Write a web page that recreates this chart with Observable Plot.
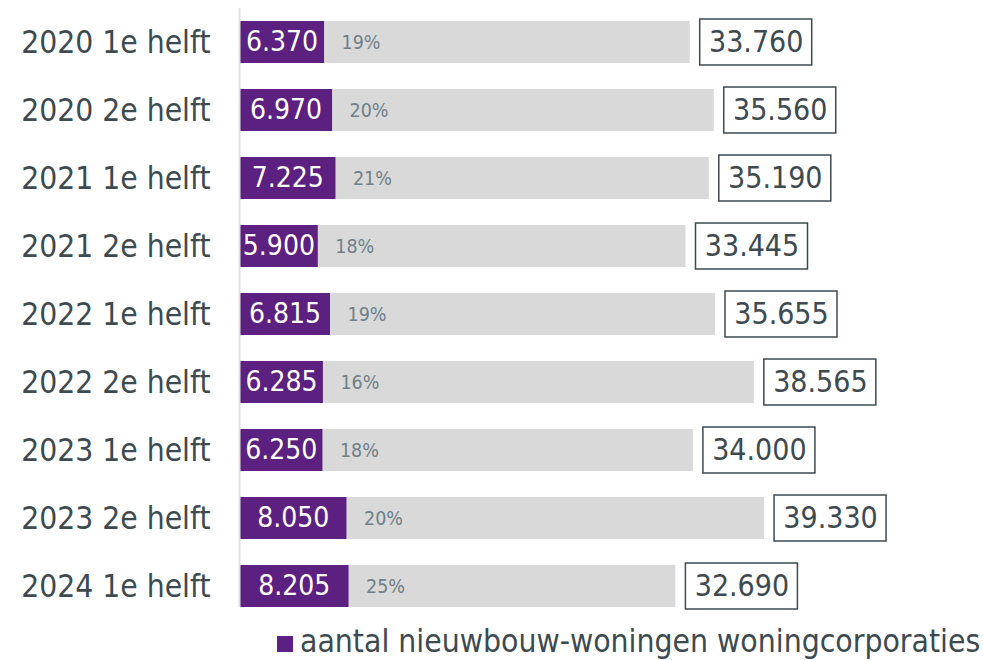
<!DOCTYPE html>
<html><head><meta charset="utf-8">
<script src="https://cdn.jsdelivr.net/npm/d3@7"></script>
<script src="https://cdn.jsdelivr.net/npm/@observablehq/plot@0.6"></script>
<style>
body{margin:0;background:#fff;font-family:"DejaVu Sans Condensed","DejaVu Sans",sans-serif;font-stretch:condensed}
svg text{font-stretch:condensed}
#chart svg{display:block}
.legend{margin-left:277px;margin-top:3px;font-size:31.6px;line-height:normal;color:#3d4a50;white-space:nowrap}
.sw{display:inline-block;width:16px;height:16px;background:#5c2080;margin-right:7px;vertical-align:baseline}
</style></head><body><div id="chart"></div>
<div class="legend"><span class="sw"></span>aantal nieuwbouw-woningen woningcorporaties</div>
<script>
const categories = ["2020 1e helft","2020 2e helft","2021 1e helft","2021 2e helft","2022 1e helft","2022 2e helft","2023 1e helft","2023 2e helft","2024 1e helft"];
const corporaties = [6370, 6970, 7225, 5900, 6815, 6285, 6250, 8050, 8205];
const totaal = [33760, 35560, 35190, 33445, 35655, 38565, 34000, 39330, 32690];
const percentages = [19, 20, 21, 18, 19, 16, 18, 20, 25];

const data = categories.map((c, i) => ({c, v: corporaties[i], t: totaal[i], p: percentages[i]}));
const nl = d3.formatLocale({decimal: ",", thousands: ".", grouping: [3], currency: ["€", ""]});
const fmt = nl.format(",");
const purple = "#5c2080", dark = "#3d4a50";

const chart = Plot.plot({
  width: 983,
  height: 620,
  marginLeft: 239,
  marginRight: 0,
  marginTop: 8,
  marginBottom: 0,
  style: {fontFamily: "'DejaVu Sans Condensed', 'DejaVu Sans', sans-serif", color: dark, background: "#fff"},
  x: {domain: [0, 55730], axis: null},
  y: {domain: categories, range: [8, 620], paddingInner: 0.38, paddingOuter: 0.19, label: null},
  marks: [
    Plot.barX(data, {y: "c", x: "t", fill: "#d9d9d9"}),
    Plot.barX(data, {y: "c", x: "v", fill: purple}),
    Plot.ruleX([0], {stroke: "#e2e2e2", strokeWidth: 2, insetBottom: 13}),
    Plot.axisY({tickSize: 0, tickPadding: 29, fontSize: 31.5, color: dark, label: null}),
    Plot.text(data, {y: "c", x: d => d.v / 2, text: d => fmt(d.v), fill: "white", fontSize: 28}),
    Plot.text(data, {y: "c", x: "v", dx: 17, text: d => d.p + "%", fill: "#6f8088", fontSize: 19.5, textAnchor: "start"}),
    Plot.barX(data, {y: "c", x1: "t", x2: "t", dx: 10, insetRight: -112, insetTop: -2, insetBottom: -2, fill: "none", stroke: dark, strokeWidth: 1.5}),
    Plot.text(data, {y: "c", x: "t", dx: 66, text: d => fmt(d.t), fill: dark, fontSize: 30})
  ]
});
document.getElementById("chart").appendChild(chart);
</script>
</body></html>
